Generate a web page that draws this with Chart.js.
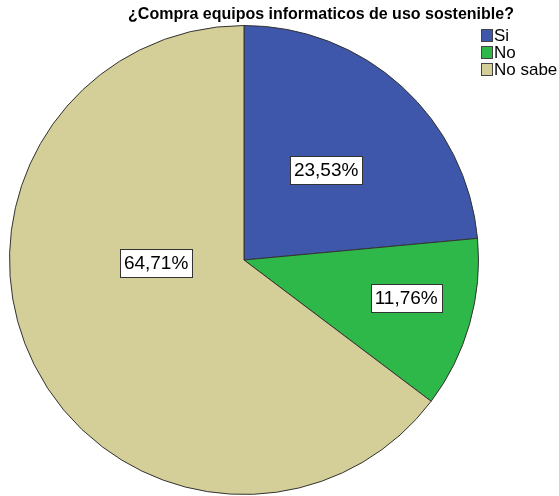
<!DOCTYPE html>
<html>
<head>
<meta charset="utf-8">
<script src="https://cdn.jsdelivr.net/npm/chart.js@4/dist/chart.umd.min.js"></script>
<style>
  html, body { margin: 0; padding: 0; background: #ffffff; }
  #wrap { width: 559px; height: 496px; position: relative; }
</style>
</head>
<body>
<div id="wrap"><canvas id="c"></canvas></div>
<script>
// Survey answers and their shares (percent)
const categories = ['Si', 'No', 'No sabe'];
const shares = [23.53, 11.76, 64.71];
const sliceColors = ['#3E57AB', '#2EB84A', '#D4CE98'];
const titleText = '¿Compra equipos informaticos de uso sostenible?';

const FONT = '"Liberation Sans", Arial, sans-serif';
// where each value box sits: fraction of the radius, and a turn (degrees) away from the slice bisector
const labelRadius = [0.52, 0.71, 0.375];
const labelTurn = [0, -2.8, 24.5];

const fmt = v => v.toFixed(2).replace('.', ',') + '%';

const decorations = {
  id: 'decorations',
  afterDatasetsDraw(chart) {
    const ctx = chart.ctx;
    const meta = chart.getDatasetMeta(0);
    ctx.save();
    // value boxes
    ctx.font = '19px ' + FONT;
    ctx.textAlign = 'center';
    ctx.textBaseline = 'middle';
    meta.data.forEach((arc, i) => {
      const p = arc.getProps(['x', 'y', 'startAngle', 'endAngle', 'outerRadius'], true);
      const mid = (p.startAngle + p.endAngle) / 2 + labelTurn[i] * Math.PI / 180;
      const r = p.outerRadius * labelRadius[i];
      const cx = p.x + Math.cos(mid) * r;
      const cy = p.y + Math.sin(mid) * r;
      const txt = fmt(shares[i]);
      const w = Math.round(ctx.measureText(txt).width) + 8;
      const h = 28;
      const x0 = Math.round(cx - w / 2) + 0.5, y0 = Math.round(cy - h / 2) + 0.5;
      ctx.fillStyle = '#ffffff';
      ctx.fillRect(x0, y0, w, h);
      ctx.strokeStyle = '#333333';
      ctx.lineWidth = 1;
      ctx.strokeRect(x0, y0, w, h);
      ctx.fillStyle = '#000000';
      ctx.fillText(txt, cx, cy + 1);
    });
    // title
    ctx.font = 'bold 16px ' + FONT;
    ctx.textAlign = 'center';
    ctx.textBaseline = 'middle';
    ctx.fillStyle = '#000000';
    ctx.fillText(titleText, 321, 15);
    // legend
    ctx.font = '17px ' + FONT;
    ctx.textAlign = 'left';
    categories.forEach((name, i) => {
      const y = 29 + i * 17;
      ctx.fillStyle = sliceColors[i];
      ctx.fillRect(481.5, y + 0.5, 11, 12);
      ctx.strokeStyle = '#444444';
      ctx.lineWidth = 1;
      ctx.strokeRect(481.5, y + 0.5, 11, 12);
      ctx.fillStyle = '#000000';
      ctx.fillText(name, 494, y + 7);
    });
    ctx.restore();
  }
};

new Chart(document.getElementById('c'), {
  type: 'pie',
  data: {
    labels: categories,
    datasets: [{
      data: shares,
      backgroundColor: sliceColors,
      borderColor: '#333333',
      borderWidth: 1
    }]
  },
  options: {
    responsive: true,
    maintainAspectRatio: false,
    animation: false,
    layout: { padding: { left: 9, top: 25, right: 80, bottom: 1 } },
    plugins: {
      legend: { display: false },
      title: { display: false },
      tooltip: { enabled: false }
    }
  },
  plugins: [decorations]
});
</script>
</body>
</html>
